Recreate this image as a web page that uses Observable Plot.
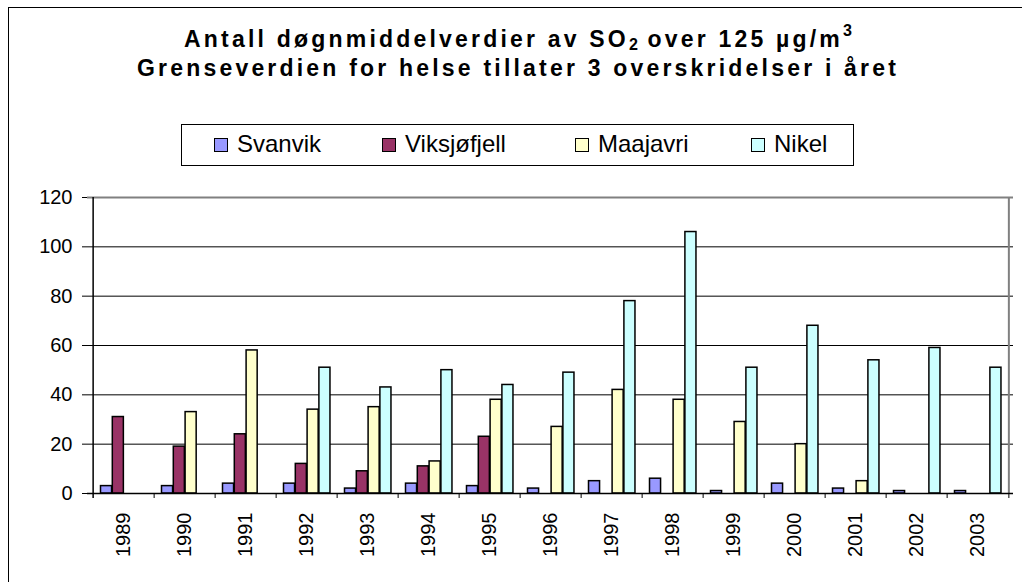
<!DOCTYPE html>
<html>
<head>
<meta charset="utf-8">
<script src="https://cdn.jsdelivr.net/npm/d3@7"></script>
<script src="https://cdn.jsdelivr.net/npm/@observablehq/plot@0.6"></script>
<style>
  html, body { margin: 0; padding: 0; background: #fff; overflow: hidden; }
  body { width: 1022px; height: 582px; position: relative; font-family: Arial, "Liberation Sans", sans-serif; color: #000; }
  #frame { position: absolute; left: 8px; top: 7px; width: 1200px; height: 800px; border: 1px solid #000; pointer-events: none; z-index: 10; }
  #header { position: relative; height: 180px; }
  .title { position: absolute; left: 0; width: 1036px; text-align: center; font-weight: bold; font-size: 23px; line-height: 28px; letter-spacing: 3.2px; white-space: nowrap; }
  .title sub { font-size: 0.7em; vertical-align: -0.2em; line-height: 0; letter-spacing: 0; }
  .title sup { font-size: 0.7em; vertical-align: 0.7em; line-height: 0; letter-spacing: 0; }
  #legend { position: absolute; left: 181px; top: 124px; width: 671px; height: 40px; border: 1.5px solid #000; }
  .item { position: absolute; top: 0; height: 40px; }
  .sw { position: absolute; top: 13px; width: 12px; height: 12px; border: 1.5px solid #000; }
  .lab { position: absolute; left: 23px; top: 7px; font-size: 24px; line-height: 24px; white-space: nowrap; }
  #chart svg { display: block; }
</style>
</head>
<body>
<div id="header">
  <div class="title" style="top:25px">Antall døgnmiddelverdier av SO<sub>2</sub> over 125 µg/m<sup>3</sup></div>
  <div class="title" style="top:54px">Grenseverdien for helse tillater 3 overskridelser i året</div>
  <div id="legend"></div>
</div>
<div id="chart"></div>
<div id="frame"></div>
<script>
// ---- data ----
const years = ["1989","1990","1991","1992","1993","1994","1995","1996","1997","1998","1999","2000","2001","2002","2003"];
const seriesNames = ["Svanvik", "Viksjøfjell", "Maajavri", "Nikel"];
const seriesColors = ["#9999FF", "#993366", "#FFFFCC", "#CCFFFF"];
const svanvik     = [3, 3, 4, 4, 2, 4, 3, 2, 5, 6, 1, 4, 2, 1, 1];
const viksjofjell = [31, 19, 24, 12, 9, 11, 23, null, null, null, null, null, null, null, null];
const maajavri    = [null, 33, 58, 34, 35, 13, 38, 27, 42, 38, 29, 20, 5, null, null];
const nikel       = [null, null, null, 51, 43, 50, 44, 49, 78, 106, 51, 68, 54, 59, 51];
const yTicks = [0, 20, 40, 60, 80, 100, 120];

const seriesValues = [svanvik, viksjofjell, maajavri, nikel];
const table = [];
seriesNames.forEach((s, si) => {
  years.forEach((yr, yi) => {
    const v = seriesValues[si][yi];
    if (v != null) table.push({year: yr, series: s, value: v});
  });
});

// ---- legend ----
const legendLefts = [32, 200, 393, 569];
const legend = document.getElementById("legend");
seriesNames.forEach((s, i) => {
  const it = document.createElement("div");
  it.className = "item";
  it.style.left = legendLefts[i] + "px";
  const sw = document.createElement("div");
  sw.className = "sw";
  sw.style.background = seriesColors[i];
  const lab = document.createElement("div");
  lab.className = "lab";
  lab.textContent = s;
  it.appendChild(sw); it.appendChild(lab);
  legend.appendChild(it);
});

// ---- chart ----
const W = 1022, H = 402, mL = 87, mR = 9, mT = 17, mB = 89;
const bw = (W - mL - mR) / years.length;
const barW = 11.8, gOff = 7.5;

const barMarks = seriesNames.map((s, i) =>
  Plot.barY(table.filter(d => d.series === s), {
    x: "year", y: "value",
    fill: seriesColors[i], stroke: "#000", strokeWidth: 1.5,
    insetLeft: gOff + i * barW,
    insetRight: bw - gOff - (i + 1) * barW
  })
);

const chart = Plot.plot({
  width: W, height: H,
  marginLeft: mL, marginRight: mR, marginTop: mT, marginBottom: mB,
  style: {fontFamily: "Arial, 'Liberation Sans', sans-serif", fontSize: "20px", color: "#000", background: "transparent", overflow: "visible"},
  x: {type: "band", domain: years, padding: 0, label: null, tickSize: 0, tickRotate: -90, tickPadding: 19},
  y: {domain: [0, 120], ticks: yTicks, label: null, tickSize: 5, tickPadding: 10},
  marks: [
    Plot.ruleY(yTicks.filter(t => t > 0 && t < 120), {stroke: "#000", strokeWidth: 1}),
    Plot.ruleY([120], {stroke: "#808080", strokeWidth: 2}),
    Plot.ruleX([years[years.length - 1]], {dx: bw / 2, y1: 120, y2: 0, stroke: "#808080", strokeWidth: 2}),
    ...barMarks,
    Plot.ruleY([0], {stroke: "#000", strokeWidth: 1.5}),
    Plot.ruleX([years[0]], {dx: -bw / 2, y1: 120, y2: 0, insetBottom: -5, stroke: "#000", strokeWidth: 1.5}),
    Plot.ruleX(years.slice(1), {dx: -bw / 2, y1: 0, y2: 0, insetBottom: -5, stroke: "#000", strokeWidth: 1}),
    Plot.ruleX([years[years.length - 1]], {dx: bw / 2, y1: 0, y2: 0, insetBottom: -5, stroke: "#000", strokeWidth: 1})
  ]
});
document.getElementById("chart").appendChild(chart);
</script>
</body>
</html>
